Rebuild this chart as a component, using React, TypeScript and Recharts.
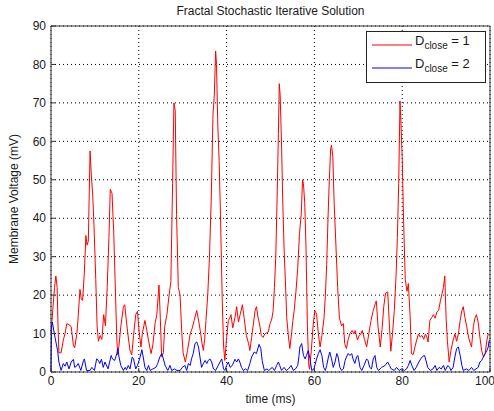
import { CartesianGrid, Label, Legend, Line, LineChart, XAxis, YAxis } from "recharts";

const xTicks = [0, 20, 40, 60, 80, 100];
const yTicks = [0, 10, 20, 30, 40, 50, 60, 70, 80, 90];

// D_close = 1 (red)
const redTime = [
    0, 0.4, 0.8, 1.1, 1.4, 1.6, 1.8, 2.3, 2.8, 3.2, 3.6, 4.1, 4.6, 5.1, 5.4, 5.9, 6.2, 6.6, 6.9, 7.2,
    7.6, 7.95, 8.2, 8.5, 8.9, 9.2, 9.5, 9.8, 10.2, 10.5, 10.8, 11.2, 11.6, 12.0, 12.4, 12.8, 13.2, 13.5, 13.9, 14.3,
    14.6, 15.0, 15.2, 15.5, 15.9, 16.5, 16.8, 17.2, 17.6, 18.0, 18.4, 18.8, 19.3, 19.7, 20.1, 20.5, 20.8, 21.4, 21.8, 22.2,
    22.8, 23.2, 23.7, 24.1, 24.6, 24.9, 25.2, 25.6, 25.9, 26.4, 26.9, 27.3, 27.7, 28.0, 28.3, 28.6, 29.0, 29.4, 29.8, 30.1,
    30.6, 31.1, 31.7, 32.2, 32.6, 33.2, 33.6, 34.0, 34.4, 34.7, 35.0, 35.3, 35.7, 36.1, 36.5, 36.9, 37.2, 37.5, 37.7, 38.0,
    38.3, 38.6, 39.0, 39.3, 39.6, 40.0, 40.4, 40.7, 41.0, 41.4, 41.9, 42.3, 42.7, 43.1, 43.6, 44.0, 44.5, 45.0, 45.3, 45.7,
    46.1, 46.5, 46.8, 47.2, 47.6, 47.9, 48.3, 48.7, 49.1, 49.5, 49.9, 50.3, 50.6, 50.9, 51.2, 51.5, 51.8, 52.0, 52.2, 52.5,
    52.8, 53.1, 53.4, 53.7, 54.1, 54.4, 54.8, 55.1, 55.4, 55.8, 56.2, 56.6, 57.0, 57.3, 57.5, 57.8, 58.1, 58.4, 58.7, 58.9,
    59.3, 59.7, 60.1, 60.5, 60.9, 61.3, 61.7, 62.2, 62.5, 62.8, 63.1, 63.4, 63.7, 63.9, 64.2, 64.5, 64.9, 65.3, 65.7, 66.2,
    66.6, 66.9, 67.3, 67.7, 68.1, 68.6, 69.0, 69.3, 69.8, 70.2, 70.6, 70.9, 71.4, 71.9, 72.4, 72.9, 73.4, 73.9, 74.1, 74.5,
    75.0, 75.4, 75.8, 76.2, 76.7, 77.1, 77.4, 77.8, 78.2, 78.6, 78.9, 79.2, 79.5, 79.7, 80.0, 80.3, 80.7, 81.1, 81.4, 81.8,
    82.1, 82.5, 82.9, 83.3, 83.7, 84.1, 84.5, 84.9, 85.3, 85.6, 85.9, 86.3, 86.7, 87.1, 87.5, 87.9, 88.3, 88.7, 89.1, 89.4,
    89.7, 90.0, 90.3, 90.7, 91.1, 91.6, 92.0, 92.4, 92.8, 93.2, 93.6, 93.9, 94.3, 94.7, 95.1, 95.5, 95.8, 96.2, 96.6, 96.9,
    97.3, 97.7, 98.1, 98.5, 98.9, 99.3, 99.6, 100,
];
const redVoltage = [
    10, 16, 22, 25, 22, 12, 5, 5, 8.3, 10, 12.6, 12.3, 11.8, 7, 6.3, 10, 14.5, 21.5, 19, 18.6,
    26, 35.5, 33, 34, 57.5, 51, 46, 38, 24, 12, 8, 9.5, 8.5, 14.9, 12, 22, 35, 47.5, 46.5, 36,
    24, 8.3, 4.5, 7, 11.8, 17, 17.5, 13, 9.1, 5.6, 4.5, 9.5, 14.9, 15.8, 10, 6.5, 10, 13.4, 11, 8.3,
    4.8, 7, 12.6, 14.9, 22.6, 14, 4, 5, 11.8, 14.9, 20, 23.5, 49, 70, 68, 41, 22, 20, 10, 5,
    2.6, 5.6, 9.9, 11.5, 13.4, 16, 13.5, 10.8, 7.5, 5.6, 8.5, 13.4, 20, 30, 45, 67, 72, 83.5, 80, 64,
    55, 41, 19, 7, 3, 9, 13.4, 14, 14.9, 11.5, 14.1, 17, 13, 15, 17.5, 14, 9.5, 7.4, 5.6, 9,
    12.5, 16, 17, 14, 11.8, 9.5, 9, 9.9, 10.2, 10.4, 12.6, 13.8, 16, 22, 30, 45, 62, 75, 72, 60,
    44, 32, 23.4, 14.1, 9.1, 6.1, 10, 13.4, 16, 21, 27, 36, 41, 50, 49, 44, 32, 12, 2, 0.7,
    5.6, 12, 16, 15, 9.9, 6.5, 9.5, 14.1, 20, 28, 40, 50, 58, 59, 56, 44, 33, 22, 14, 12,
    12.6, 7.4, 6.1, 8.5, 10, 10.8, 9.9, 10.8, 8.3, 9.5, 9.9, 10.8, 8.5, 6.5, 10, 13.4, 16, 17.9, 18.5, 11.8,
    6.5, 11, 17, 20.5, 20.8, 12, 5.4, 10, 16, 25, 35, 49, 70.5, 65, 56, 40, 24, 21, 23, 14.7,
    4.8, 4.5, 6.5, 8.3, 9.9, 9.1, 9.5, 8.5, 9.9, 9.1, 7.8, 13.4, 14.1, 14.9, 14, 15.6, 16, 18.5, 20.5, 22,
    25, 14, 8, 2.6, 5.6, 8.3, 9.9, 8, 9.9, 13.4, 16, 17, 14.1, 11.8, 9.1, 7.5, 6.5, 11.8, 14.1, 14.9,
    13, 9.1, 5.6, 3.9, 4.8, 8.3, 9.9, 9.5,
];

// D_close = 2 (blue)
const blueTime = [
    0, 0.15, 0.3, 0.9, 1.5, 1.8, 2.3, 2.8, 3.2, 3.6, 4.1, 4.6, 5.1, 5.4, 5.8, 6.2, 6.8, 7.4, 7.6, 8.1,
    8.9, 9.3, 9.9, 10.4, 10.8, 11.1, 11.5, 11.9, 12.3, 13.0, 13.7, 14.0, 14.5, 15.0, 15.2, 15.5, 15.9, 16.5, 16.9, 17.2,
    17.6, 18.0, 18.5, 18.8, 19.3, 19.7, 20.3, 20.7, 21.0, 21.4, 21.8, 22.2, 22.6, 23.2, 23.9, 24.3, 24.8, 25.2, 25.6, 26.0,
    26.6, 27.1, 27.5, 28.1, 28.7, 29.4, 29.9, 30.5, 30.9, 31.3, 31.7, 32.0, 32.4, 32.8, 33.2, 33.6, 34.0, 34.3, 34.7, 35.1,
    35.5, 35.8, 36.2, 36.6, 37.0, 37.5, 38.1, 38.5, 38.9, 39.3, 39.6, 40.0, 40.4, 40.8, 41.3, 41.9, 42.3, 42.7, 43.0, 43.4,
    43.8, 44.3, 44.8, 45.3, 45.7, 46.3, 46.8, 47.4, 47.8, 48.1, 48.6, 49.2, 49.6, 50.4, 50.9, 51.4, 51.8, 52.1, 52.5, 53.1,
    53.6, 54.1, 54.7, 55.2, 55.7, 56.2, 56.5, 56.7, 57.1, 57.5, 57.9, 58.2, 58.6, 59.0, 59.4, 59.9, 60.5, 60.9, 61.3, 61.7,
    62.1, 62.5, 62.8, 63.2, 63.5, 63.9, 64.3, 64.7, 65.1, 65.4, 65.8, 66.2, 66.6, 67.0, 67.3, 67.7, 68.1, 68.5, 68.8, 69.2,
    69.6, 69.9, 70.4, 70.8, 71.3, 71.9, 72.2, 72.6, 73.0, 73.4, 73.8, 74.2, 74.6, 75.3, 76.1, 76.7, 77.1, 77.5, 78.2, 78.7,
    79.3, 79.9, 80.5, 81.0, 81.4, 81.8, 82.2, 82.7, 83.2, 83.8, 84.2, 84.7, 85.1, 85.5, 85.8, 86.4, 87.0, 87.5, 87.9, 88.4,
    88.9, 89.4, 89.8, 90.4, 90.8, 91.1, 91.6, 92.0, 92.4, 92.8, 93.2, 93.6, 93.9, 94.6, 95.2, 95.8, 96.3, 96.8, 97.3, 97.7,
    98.1, 98.5, 98.9, 99.3, 99.6, 99.8, 100,
];
const blueVoltage = [
    0.5, 12, 13, 9.1, 5.6, 2.6, 0.4, 2.2, 1.5, 2.6, 0.8, 2.6, 3.3, 1.2, 1.5, 2.2, 0.4, 3, 3.4, 0.4,
    0.4, 1.2, 0.4, 3.4, 3, 2.2, 3.3, 1.2, 2.6, 0.8, 4.3, 3.4, 3, 4.8, 6.1, 3.9, 1.7, 0.4, 1.2, 0.6,
    1.7, 0.8, 3.9, 3.4, 0.8, 1.7, 3.9, 5.8, 3.9, 1.2, 0.4, 1.7, 0.4, 0.8, 1.2, 2.2, 3.9, 4.8, 3.4, 1.7,
    0.4, 1.7, 0.4, 0.8, 0.4, 0.4, 1.2, 1.7, 0.4, 2.2, 1.7, 3.4, 4.8, 7.4, 7.8, 6.5, 3.4, 1.2, 2.2, 3,
    2.2, 3, 3.4, 2.6, 0.8, 0.4, 1.7, 2.6, 3.4, 0.8, 0.4, 1.7, 2.6, 1.2, 1.7, 3.3, 2.6, 3.4, 2.6, 1.2,
    0.4, 0.8, 0.4, 2.2, 3.9, 5.2, 4.8, 7.2, 6.1, 3, 0.4, 0.8, 0.4, 1.2, 0.4, 1.7, 2.6, 1.7, 0.4, 1.2,
    0.4, 0.8, 1.7, 0.4, 0.8, 1.7, 4.3, 6.5, 7.4, 4.3, 3.4, 4.3, 5.6, 3.4, 0.4, 0.8, 3.4, 4.8, 5.8, 4.3,
    1.2, 0.4, 1.7, 3.9, 5.2, 3.4, 1.2, 2.6, 4.8, 3.9, 1.2, 0.4, 0.8, 3, 3.9, 4.8, 4.3, 4.8, 3.4, 2.2,
    3.9, 4.3, 1.2, 0.4, 1.7, 3.4, 3, 1.2, 0.8, 3.4, 4.3, 1.2, 0.4, 1.2, 1.7, 2.6, 1.7, 0.8, 0.4, 1.2,
    0.4, 0.8, 0.4, 0.8, 1.7, 3, 1.7, 0.4, 1.2, 2.6, 3.4, 4.1, 4.3, 2.6, 1.2, 0.4, 0.8, 1.7, 0.4, 1.2,
    0.8, 1.7, 0.4, 1.7, 1.2, 0.4, 1.2, 3.9, 6.1, 6.5, 4.3, 1.7, 0.4, 0.8, 0.4, 1.2, 0.4, 0.8, 1.2, 2.6,
    3, 3.9, 4.8, 5.6, 6.5, 8.2, 8,
];

const redData = redTime.map((t, i) => ({ t, v: redVoltage[i] }));
const blueData = blueTime.map((t, i) => ({ t, v: blueVoltage[i] }));

const FONT = '"Liberation Sans", Arial, Helvetica, sans-serif';
const AXIS_COLOR = "#333";
const TEXT_COLOR = "#1a1a1a";

function LegendBox() {
    const rows = [
        { color: "#ff0000", label: "1", y: 14 },
        { color: "#0000ff", label: "2", y: 37 },
    ];
    return (
        <svg width={121} height={53} style={{ display: "block" }}>
            <rect x={0.5} y={0.5} width={119} height={51} fill="#fff" stroke="#222" />
            {rows.map((r) => (
                <g key={r.label}>
                    <line x1={6} x2={46} y1={r.y} y2={r.y} stroke={r.color} strokeWidth={1} />
                    <text x={49} y={r.y} fontFamily={FONT} fontSize={13} fill={TEXT_COLOR}>
                        D
                        <tspan fontSize={10} dy={4}>close</tspan>
                        <tspan fontSize={13} dy={-4}> = {r.label}</tspan>
                    </text>
                </g>
            ))}
        </svg>
    );
}

export default function App() {
    return (
        <div style={{ position: "absolute", left: 0, top: 0, width: 494, height: 411, background: "#fff" }}>
            <LineChart
                width={494}
                height={411}
                margin={{ top: 25, right: 3, bottom: 0, left: 0 }}
                style={{ fontFamily: FONT }}
            >
                <CartesianGrid stroke="#000" strokeDasharray="1 3" />
                <XAxis
                    dataKey="t"
                    type="number"
                    domain={[0, 100]}
                    ticks={xTicks}
                    height={39}
                    stroke={AXIS_COLOR}
                    tickSize={-4}
                    tickMargin={8}
                    tick={{ fill: TEXT_COLOR, fontSize: 12 }}
                >
                    <Label value="time (ms)" position="insideBottom" offset={8} fill={TEXT_COLOR} fontSize={12} />
                </XAxis>
                <XAxis
                    xAxisId="top"
                    orientation="top"
                    type="number"
                    domain={[0, 100]}
                    ticks={xTicks}
                    height={1}
                    stroke={AXIS_COLOR}
                    tickSize={-4}
                    tick={false}
                >
                    <Label
                        value="Fractal Stochastic Iterative Solution"
                        position="top"
                        offset={10}
                        fill={TEXT_COLOR}
                        fontSize={12}
                    />
                </XAxis>
                <YAxis
                    type="number"
                    domain={[0, 90]}
                    ticks={yTicks}
                    width={51}
                    stroke={AXIS_COLOR}
                    tickSize={-4}
                    tickMargin={9}
                    tick={{ fill: TEXT_COLOR, fontSize: 12 }}
                >
                    <Label
                        content={() => (
                            <text
                                x={18}
                                y={199}
                                transform="rotate(-90 18 199)"
                                textAnchor="middle"
                                fontFamily={FONT}
                                fontSize={12}
                                fill={TEXT_COLOR}
                            >
                                Membrane Voltage (mV)
                            </text>
                        )}
                    />
                </YAxis>
                <YAxis
                    yAxisId="right"
                    orientation="right"
                    type="number"
                    domain={[0, 90]}
                    ticks={yTicks}
                    width={1}
                    stroke={AXIS_COLOR}
                    tickSize={-4}
                    tick={false}
                />
                <Legend
                    layout="horizontal"
                    align="center"
                    verticalAlign="middle"
                    wrapperStyle={{ top: 31, left: 366, width: 121, height: 53 }}
                    content={() => <LegendBox />}
                />
                <Line
                    data={redData}
                    dataKey="v"
                    type="linear"
                    stroke="#ff0000"
                    strokeWidth={1}
                    dot={false}
                    isAnimationActive={false}
                />
                <Line
                    data={blueData}
                    dataKey="v"
                    type="linear"
                    stroke="#0000ff"
                    strokeWidth={1}
                    dot={false}
                    isAnimationActive={false}
                />
            </LineChart>
        </div>
    );
}
